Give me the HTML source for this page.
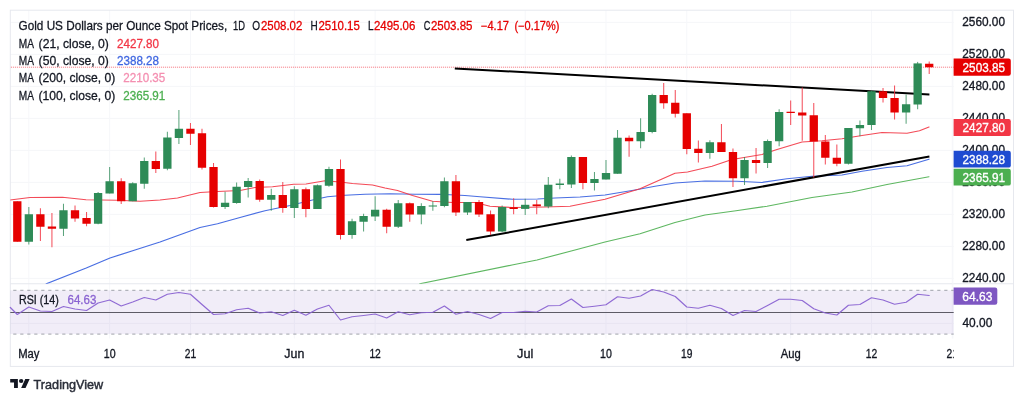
<!DOCTYPE html>
<html lang="en"><head><meta charset="utf-8"><title>Gold US Dollars per Ounce Spot Prices</title>
<style>html,body{margin:0;padding:0;background:#fff;overflow:hidden}svg{display:block}text{font-family:"Liberation Sans",Arial,sans-serif}</style></head><body>
<svg width="1024" height="402" viewBox="0 0 1024 402">
<rect width="1024" height="402" fill="#fff"/>
<line x1="10.3" x2="953.7" y1="22.4" y2="22.4" stroke="#f5f6f9" stroke-width="1"/>
<line x1="10.3" x2="953.7" y1="54.4" y2="54.4" stroke="#f5f6f9" stroke-width="1"/>
<line x1="10.3" x2="953.7" y1="86.4" y2="86.4" stroke="#f5f6f9" stroke-width="1"/>
<line x1="10.3" x2="953.7" y1="118.4" y2="118.4" stroke="#f5f6f9" stroke-width="1"/>
<line x1="10.3" x2="953.7" y1="150.4" y2="150.4" stroke="#f5f6f9" stroke-width="1"/>
<line x1="10.3" x2="953.7" y1="182.4" y2="182.4" stroke="#f5f6f9" stroke-width="1"/>
<line x1="10.3" x2="953.7" y1="214.4" y2="214.4" stroke="#f5f6f9" stroke-width="1"/>
<line x1="10.3" x2="953.7" y1="246.4" y2="246.4" stroke="#f5f6f9" stroke-width="1"/>
<line x1="10.3" x2="953.7" y1="278.4" y2="278.4" stroke="#f5f6f9" stroke-width="1"/>
<line x1="10.3" x2="953.7" y1="323.4" y2="323.4" stroke="#f5f6f9" stroke-width="1"/>
<line x1="28.84" x2="28.84" y1="10.2" y2="338.5" stroke="#f6f7fa" stroke-width="1"/>
<line x1="109.64" x2="109.64" y1="10.2" y2="338.5" stroke="#f6f7fa" stroke-width="1"/>
<line x1="190.44" x2="190.44" y1="10.2" y2="338.5" stroke="#f6f7fa" stroke-width="1"/>
<line x1="294.33" x2="294.33" y1="10.2" y2="338.5" stroke="#f6f7fa" stroke-width="1"/>
<line x1="375.13" x2="375.13" y1="10.2" y2="338.5" stroke="#f6f7fa" stroke-width="1"/>
<line x1="525.19" x2="525.19" y1="10.2" y2="338.5" stroke="#f6f7fa" stroke-width="1"/>
<line x1="605.99" x2="605.99" y1="10.2" y2="338.5" stroke="#f6f7fa" stroke-width="1"/>
<line x1="686.79" x2="686.79" y1="10.2" y2="338.5" stroke="#f6f7fa" stroke-width="1"/>
<line x1="790.68" x2="790.68" y1="10.2" y2="338.5" stroke="#f6f7fa" stroke-width="1"/>
<line x1="871.48" x2="871.48" y1="10.2" y2="338.5" stroke="#f6f7fa" stroke-width="1"/>
<line x1="952.28" x2="952.28" y1="10.2" y2="338.5" stroke="#f6f7fa" stroke-width="1"/>
<rect x="10.3" y="10.2" width="1003.2" height="356.2" fill="none" stroke="#e6e8ee" stroke-width="1"/>
<line x1="10.3" x2="1013.5" y1="283.75" y2="283.75" stroke="#e6e8ee" stroke-width="1"/>
<line x1="952.9" x2="952.9" y1="10.2" y2="338.5" stroke="#f5f6f9" stroke-width="1"/>
<line x1="10.9" x2="953.7" y1="67.2" y2="67.2" stroke="#f23645" stroke-width="1" stroke-dasharray="1 1" opacity="0.7"/>
<clipPath id="cp"><rect x="10.3" y="10.2" width="943.4000000000001" height="273.55"/></clipPath>
<g clip-path="url(#cp)">
<polyline points="419.75,283.75 512.00,265.00 537.00,260.00 575.00,250.00 605.00,242.00 640.00,233.75 675.00,222.50 705.00,215.00 736.00,210.75 767.00,206.25 812.00,197.50 852.00,192.00 887.00,184.50 929.00,176.75" fill="none" stroke="#4caf50" stroke-width="1.15" stroke-linejoin="round" stroke-linecap="round" opacity="0.9"/>
<polyline points="46.25,283.75 86.25,268.00 110.00,258.00 135.00,250.00 160.00,242.00 200.00,227.50 217.50,223.75 240.00,217.50 265.00,210.75 290.00,205.50 312.50,200.00 327.50,196.75 345.00,195.25 365.00,194.25 390.00,193.75 415.00,194.25 440.00,194.25 465.00,195.50 480.00,196.75 512.50,199.25 537.50,199.00 555.00,198.00 580.00,197.00 605.00,195.00 635.00,190.00 655.00,186.25 675.00,183.00 705.00,181.00 737.00,181.25 762.00,182.50 787.00,178.75 812.00,176.25 842.00,175.00 862.00,171.25 887.00,167.50 907.00,165.75 929.00,159.25" fill="none" stroke="#3f66e0" stroke-width="1.25" stroke-linejoin="round" stroke-linecap="round" opacity="0.95"/>
<polyline points="10.00,200.00 30.00,197.50 62.50,197.25 86.00,199.75 117.50,200.25 140.00,201.25 160.00,200.00 177.50,198.00 200.00,192.50 217.50,191.50 240.00,190.50 255.00,187.50 272.50,186.75 293.75,184.25 306.00,184.00 325.00,180.75 340.00,182.00 352.50,183.50 372.50,185.00 385.00,188.00 397.50,190.50 412.50,195.50 432.50,201.25 452.50,202.50 475.00,202.50 490.00,206.25 512.50,207.50 545.00,207.00 570.00,206.25 605.00,199.25 640.00,188.75 675.00,173.25 687.50,172.00 712.00,166.25 732.00,159.50 762.00,154.50 777.00,149.50 802.00,142.00 822.00,140.75 842.00,138.75 862.00,135.50 882.00,132.50 907.00,133.25 919.50,130.75 929.00,127.00" fill="none" stroke="#f23645" stroke-width="1.2" stroke-linejoin="round" stroke-linecap="round" opacity="0.9"/>
<line x1="454.8" y1="68.45" x2="929.4" y2="94.45" stroke="#000" stroke-width="2.0" stroke-linecap="butt"/>
<line x1="466.3" y1="240.05" x2="929.4" y2="156.4" stroke="#000" stroke-width="2.0" stroke-linecap="butt"/>
<rect x="16.80" y="201.25" width="1" height="40.50" fill="#f23645" opacity="0.9"/>
<rect x="13.15" y="201.25" width="8.3" height="40.50" fill="#e60000"/>
<rect x="28.34" y="207.00" width="1" height="37.50" fill="#2e8b57" opacity="0.8"/>
<rect x="24.69" y="214.25" width="8.3" height="27.50" fill="#2e8b57"/>
<rect x="39.89" y="208.25" width="1" height="32.75" fill="#f23645" opacity="0.9"/>
<rect x="36.24" y="214.25" width="8.3" height="12.50" fill="#e60000"/>
<rect x="51.43" y="213.00" width="1" height="34.25" fill="#f23645" opacity="0.9"/>
<rect x="47.78" y="226.50" width="8.3" height="2.25" fill="#e60000"/>
<rect x="62.97" y="203.75" width="1" height="32.25" fill="#2e8b57" opacity="0.8"/>
<rect x="59.32" y="210.25" width="8.3" height="18.50" fill="#2e8b57"/>
<rect x="74.52" y="205.50" width="1" height="16.25" fill="#f23645" opacity="0.9"/>
<rect x="70.86" y="210.25" width="8.3" height="8.25" fill="#e60000"/>
<rect x="86.06" y="212.00" width="1" height="14.25" fill="#f23645" opacity="0.9"/>
<rect x="82.41" y="218.00" width="8.3" height="5.75" fill="#e60000"/>
<rect x="97.60" y="192.00" width="1" height="32.25" fill="#2e8b57" opacity="0.8"/>
<rect x="93.95" y="193.00" width="8.3" height="30.75" fill="#2e8b57"/>
<rect x="109.14" y="167.00" width="1" height="26.50" fill="#2e8b57" opacity="0.8"/>
<rect x="105.49" y="181.25" width="8.3" height="12.25" fill="#2e8b57"/>
<rect x="120.69" y="178.25" width="1" height="25.75" fill="#f23645" opacity="0.9"/>
<rect x="117.04" y="181.25" width="8.3" height="20.00" fill="#e60000"/>
<rect x="132.23" y="182.25" width="1" height="19.00" fill="#2e8b57" opacity="0.8"/>
<rect x="128.58" y="183.25" width="8.3" height="18.00" fill="#2e8b57"/>
<rect x="143.77" y="157.50" width="1" height="31.25" fill="#2e8b57" opacity="0.8"/>
<rect x="140.12" y="161.00" width="8.3" height="22.75" fill="#2e8b57"/>
<rect x="155.32" y="151.50" width="1" height="21.50" fill="#f23645" opacity="0.9"/>
<rect x="151.67" y="161.00" width="8.3" height="8.00" fill="#e60000"/>
<rect x="166.86" y="131.75" width="1" height="38.50" fill="#2e8b57" opacity="0.8"/>
<rect x="163.21" y="137.50" width="8.3" height="31.25" fill="#2e8b57"/>
<rect x="178.40" y="110.00" width="1" height="34.00" fill="#2e8b57" opacity="0.8"/>
<rect x="174.75" y="128.75" width="8.3" height="9.25" fill="#2e8b57"/>
<rect x="189.94" y="123.00" width="1" height="22.00" fill="#f23645" opacity="0.9"/>
<rect x="186.29" y="128.75" width="8.3" height="5.00" fill="#e60000"/>
<rect x="201.49" y="128.75" width="1" height="40.75" fill="#f23645" opacity="0.9"/>
<rect x="197.84" y="133.25" width="8.3" height="34.50" fill="#e60000"/>
<rect x="213.03" y="163.00" width="1" height="44.50" fill="#f23645" opacity="0.9"/>
<rect x="209.38" y="167.00" width="8.3" height="40.00" fill="#e60000"/>
<rect x="224.57" y="191.75" width="1" height="17.25" fill="#2e8b57" opacity="0.8"/>
<rect x="220.92" y="202.75" width="8.3" height="4.25" fill="#2e8b57"/>
<rect x="236.12" y="182.50" width="1" height="21.25" fill="#2e8b57" opacity="0.8"/>
<rect x="232.47" y="186.75" width="8.3" height="16.25" fill="#2e8b57"/>
<rect x="247.66" y="178.00" width="1" height="19.50" fill="#2e8b57" opacity="0.8"/>
<rect x="244.01" y="181.00" width="8.3" height="6.00" fill="#2e8b57"/>
<rect x="259.20" y="179.50" width="1" height="22.25" fill="#f23645" opacity="0.9"/>
<rect x="255.55" y="181.00" width="8.3" height="18.75" fill="#e60000"/>
<rect x="270.75" y="188.75" width="1" height="22.00" fill="#2e8b57" opacity="0.8"/>
<rect x="267.10" y="195.00" width="8.3" height="4.75" fill="#2e8b57"/>
<rect x="282.29" y="182.00" width="1" height="30.75" fill="#f23645" opacity="0.9"/>
<rect x="278.64" y="195.00" width="8.3" height="13.00" fill="#e60000"/>
<rect x="293.83" y="186.25" width="1" height="31.75" fill="#2e8b57" opacity="0.8"/>
<rect x="290.18" y="189.25" width="8.3" height="18.75" fill="#2e8b57"/>
<rect x="305.38" y="187.50" width="1" height="29.75" fill="#f23645" opacity="0.9"/>
<rect x="301.73" y="189.25" width="8.3" height="19.75" fill="#e60000"/>
<rect x="316.92" y="184.50" width="1" height="24.50" fill="#2e8b57" opacity="0.8"/>
<rect x="313.27" y="185.25" width="8.3" height="23.75" fill="#2e8b57"/>
<rect x="328.46" y="166.75" width="1" height="20.00" fill="#2e8b57" opacity="0.8"/>
<rect x="324.81" y="169.00" width="8.3" height="16.75" fill="#2e8b57"/>
<rect x="340.00" y="159.50" width="1" height="80.00" fill="#f23645" opacity="0.9"/>
<rect x="336.35" y="169.00" width="8.3" height="66.00" fill="#e60000"/>
<rect x="351.55" y="218.75" width="1" height="20.00" fill="#2e8b57" opacity="0.8"/>
<rect x="347.90" y="221.25" width="8.3" height="13.75" fill="#2e8b57"/>
<rect x="363.09" y="213.75" width="1" height="17.75" fill="#2e8b57" opacity="0.8"/>
<rect x="359.44" y="216.00" width="8.3" height="5.75" fill="#2e8b57"/>
<rect x="374.63" y="196.25" width="1" height="24.75" fill="#2e8b57" opacity="0.8"/>
<rect x="370.98" y="209.75" width="8.3" height="6.75" fill="#2e8b57"/>
<rect x="386.18" y="208.75" width="1" height="24.50" fill="#f23645" opacity="0.9"/>
<rect x="382.53" y="209.75" width="8.3" height="17.00" fill="#e60000"/>
<rect x="397.72" y="200.00" width="1" height="28.00" fill="#2e8b57" opacity="0.8"/>
<rect x="394.07" y="203.25" width="8.3" height="23.50" fill="#2e8b57"/>
<rect x="409.26" y="202.50" width="1" height="19.25" fill="#f23645" opacity="0.9"/>
<rect x="405.61" y="203.25" width="8.3" height="11.25" fill="#e60000"/>
<rect x="420.81" y="203.25" width="1" height="21.00" fill="#2e8b57" opacity="0.8"/>
<rect x="417.16" y="206.00" width="8.3" height="8.50" fill="#2e8b57"/>
<rect x="432.35" y="201.25" width="1" height="9.50" fill="#2e8b57" opacity="0.8"/>
<rect x="428.70" y="205.50" width="8.3" height="1.00" fill="#2e8b57"/>
<rect x="443.89" y="177.50" width="1" height="29.75" fill="#2e8b57" opacity="0.8"/>
<rect x="440.24" y="181.25" width="8.3" height="24.75" fill="#2e8b57"/>
<rect x="455.43" y="175.00" width="1" height="41.00" fill="#f23645" opacity="0.9"/>
<rect x="451.78" y="181.25" width="8.3" height="31.25" fill="#e60000"/>
<rect x="466.98" y="202.00" width="1" height="13.00" fill="#2e8b57" opacity="0.8"/>
<rect x="463.33" y="202.00" width="8.3" height="10.50" fill="#2e8b57"/>
<rect x="478.52" y="200.00" width="1" height="17.00" fill="#f23645" opacity="0.9"/>
<rect x="474.87" y="202.00" width="8.3" height="12.50" fill="#e60000"/>
<rect x="490.06" y="210.50" width="1" height="24.50" fill="#f23645" opacity="0.9"/>
<rect x="486.41" y="214.25" width="8.3" height="17.25" fill="#e60000"/>
<rect x="501.61" y="205.50" width="1" height="26.50" fill="#2e8b57" opacity="0.8"/>
<rect x="497.96" y="207.00" width="8.3" height="24.50" fill="#2e8b57"/>
<rect x="513.15" y="198.25" width="1" height="16.00" fill="#f23645" opacity="0.9"/>
<rect x="509.50" y="207.25" width="8.3" height="1.75" fill="#e60000"/>
<rect x="524.69" y="198.75" width="1" height="16.25" fill="#2e8b57" opacity="0.8"/>
<rect x="521.04" y="204.80" width="8.3" height="4.10" fill="#2e8b57"/>
<rect x="536.23" y="200.00" width="1" height="14.25" fill="#f23645" opacity="0.9"/>
<rect x="532.58" y="204.40" width="8.3" height="1.80" fill="#e60000"/>
<rect x="547.78" y="177.00" width="1" height="31.25" fill="#2e8b57" opacity="0.8"/>
<rect x="544.13" y="184.75" width="8.3" height="21.75" fill="#2e8b57"/>
<rect x="559.32" y="178.75" width="1" height="10.50" fill="#2e8b57" opacity="0.8"/>
<rect x="555.67" y="183.50" width="8.3" height="1.50" fill="#2e8b57"/>
<rect x="570.86" y="155.50" width="1" height="32.50" fill="#2e8b57" opacity="0.8"/>
<rect x="567.21" y="157.00" width="8.3" height="27.50" fill="#2e8b57"/>
<rect x="582.41" y="157.00" width="1" height="32.25" fill="#f23645" opacity="0.9"/>
<rect x="578.76" y="157.00" width="8.3" height="26.00" fill="#e60000"/>
<rect x="593.95" y="172.00" width="1" height="18.50" fill="#2e8b57" opacity="0.8"/>
<rect x="590.30" y="179.00" width="8.3" height="4.00" fill="#2e8b57"/>
<rect x="605.49" y="160.00" width="1" height="19.50" fill="#2e8b57" opacity="0.8"/>
<rect x="601.84" y="173.00" width="8.3" height="6.50" fill="#2e8b57"/>
<rect x="617.04" y="130.00" width="1" height="43.75" fill="#2e8b57" opacity="0.8"/>
<rect x="613.39" y="137.75" width="8.3" height="36.00" fill="#2e8b57"/>
<rect x="628.58" y="135.50" width="1" height="21.25" fill="#f23645" opacity="0.9"/>
<rect x="624.93" y="137.75" width="8.3" height="3.50" fill="#e60000"/>
<rect x="640.12" y="118.25" width="1" height="30.00" fill="#2e8b57" opacity="0.8"/>
<rect x="636.47" y="132.00" width="8.3" height="9.25" fill="#2e8b57"/>
<rect x="651.66" y="93.75" width="1" height="39.50" fill="#2e8b57" opacity="0.8"/>
<rect x="648.01" y="95.00" width="8.3" height="37.00" fill="#2e8b57"/>
<rect x="663.21" y="83.00" width="1" height="25.75" fill="#f23645" opacity="0.9"/>
<rect x="659.56" y="95.00" width="8.3" height="8.25" fill="#e60000"/>
<rect x="674.75" y="90.00" width="1" height="27.50" fill="#f23645" opacity="0.9"/>
<rect x="671.10" y="102.75" width="8.3" height="11.00" fill="#e60000"/>
<rect x="686.29" y="113.25" width="1" height="41.00" fill="#f23645" opacity="0.9"/>
<rect x="682.64" y="113.25" width="8.3" height="35.75" fill="#e60000"/>
<rect x="697.84" y="140.50" width="1" height="22.00" fill="#f23645" opacity="0.9"/>
<rect x="694.19" y="148.75" width="8.3" height="4.25" fill="#e60000"/>
<rect x="709.38" y="140.25" width="1" height="18.50" fill="#2e8b57" opacity="0.8"/>
<rect x="705.73" y="142.25" width="8.3" height="10.75" fill="#2e8b57"/>
<rect x="720.92" y="124.00" width="1" height="28.00" fill="#f23645" opacity="0.9"/>
<rect x="717.27" y="142.25" width="8.3" height="9.75" fill="#e60000"/>
<rect x="732.47" y="148.50" width="1" height="38.50" fill="#f23645" opacity="0.9"/>
<rect x="728.82" y="152.00" width="8.3" height="26.25" fill="#e60000"/>
<rect x="744.01" y="157.00" width="1" height="28.00" fill="#2e8b57" opacity="0.8"/>
<rect x="740.36" y="160.00" width="8.3" height="18.25" fill="#2e8b57"/>
<rect x="755.55" y="148.00" width="1" height="25.50" fill="#f23645" opacity="0.9"/>
<rect x="751.90" y="160.00" width="8.3" height="3.00" fill="#e60000"/>
<rect x="767.09" y="139.50" width="1" height="28.50" fill="#2e8b57" opacity="0.8"/>
<rect x="763.44" y="141.00" width="8.3" height="22.00" fill="#2e8b57"/>
<rect x="778.64" y="109.25" width="1" height="37.00" fill="#2e8b57" opacity="0.8"/>
<rect x="774.99" y="112.00" width="8.3" height="29.25" fill="#2e8b57"/>
<rect x="790.18" y="100.50" width="1" height="24.50" fill="#f23645" opacity="0.9"/>
<rect x="786.53" y="111.75" width="8.3" height="1.25" fill="#e60000"/>
<rect x="801.72" y="87.50" width="1" height="53.25" fill="#f23645" opacity="0.9"/>
<rect x="798.07" y="112.50" width="8.3" height="3.00" fill="#e60000"/>
<rect x="813.27" y="103.00" width="1" height="74.50" fill="#f23645" opacity="0.9"/>
<rect x="809.62" y="115.25" width="8.3" height="26.25" fill="#e60000"/>
<rect x="824.81" y="135.00" width="1" height="29.50" fill="#f23645" opacity="0.9"/>
<rect x="821.16" y="141.50" width="8.3" height="16.25" fill="#e60000"/>
<rect x="836.35" y="144.50" width="1" height="21.75" fill="#f23645" opacity="0.9"/>
<rect x="832.70" y="157.75" width="8.3" height="6.00" fill="#e60000"/>
<rect x="847.90" y="128.00" width="1" height="36.50" fill="#2e8b57" opacity="0.8"/>
<rect x="844.25" y="128.00" width="8.3" height="35.75" fill="#2e8b57"/>
<rect x="859.44" y="120.50" width="1" height="15.75" fill="#2e8b57" opacity="0.8"/>
<rect x="855.79" y="125.00" width="8.3" height="3.25" fill="#2e8b57"/>
<rect x="870.98" y="90.50" width="1" height="39.50" fill="#2e8b57" opacity="0.8"/>
<rect x="867.33" y="91.25" width="8.3" height="33.75" fill="#2e8b57"/>
<rect x="882.52" y="88.00" width="1" height="14.50" fill="#f23645" opacity="0.9"/>
<rect x="878.87" y="91.25" width="8.3" height="6.75" fill="#e60000"/>
<rect x="894.07" y="85.50" width="1" height="34.00" fill="#f23645" opacity="0.9"/>
<rect x="890.42" y="98.00" width="8.3" height="14.50" fill="#e60000"/>
<rect x="905.61" y="94.50" width="1" height="29.25" fill="#2e8b57" opacity="0.8"/>
<rect x="901.96" y="104.25" width="8.3" height="8.25" fill="#2e8b57"/>
<rect x="917.15" y="61.90" width="1" height="47.35" fill="#2e8b57" opacity="0.8"/>
<rect x="913.50" y="63.40" width="8.3" height="41.10" fill="#2e8b57"/>
<rect x="928.70" y="61.50" width="1" height="12.50" fill="#f23645" opacity="0.9"/>
<rect x="925.05" y="63.75" width="8.3" height="3.50" fill="#e60000"/>
</g>
<rect x="10.3" y="290.3" width="943.4000000000001" height="43.80000000000001" fill="#7e57c2" opacity="0.11"/>
<line x1="10.3" x2="953.7" y1="290.3" y2="290.3" stroke="#8f929b" stroke-width="0.85" stroke-dasharray="3.2 3.8" stroke-dashoffset="4.05"/>
<line x1="10.3" x2="953.7" y1="334.1" y2="334.1" stroke="#8f929b" stroke-width="0.85" stroke-dasharray="3.2 3.8" stroke-dashoffset="4.05"/>
<line x1="10.3" x2="953.7" y1="312.5" y2="312.5" stroke="#5d5b66" stroke-width="1"/>
<polyline points="10.30,307.50 17.30,314.50 28.84,307.00 40.39,311.00 51.93,311.50 63.47,306.50 75.02,309.00 86.56,310.50 98.10,303.00 109.64,300.00 121.19,306.00 132.73,302.00 144.27,297.50 155.82,300.00 167.36,294.25 178.90,292.50 190.44,294.25 201.99,304.50 213.53,314.50 225.07,313.75 236.62,309.75 248.16,308.25 259.70,313.00 271.25,311.75 282.79,315.50 294.33,310.25 305.88,315.25 317.42,309.00 328.96,305.25 340.50,320.00 352.05,316.75 363.59,315.50 375.13,314.00 386.68,318.00 398.22,311.75 409.76,314.75 421.31,312.75 432.85,312.25 444.39,306.00 455.93,314.25 467.48,311.50 479.02,314.50 490.56,318.50 502.11,312.50 513.65,312.50 525.19,311.25 536.73,312.00 548.28,305.75 559.82,305.50 571.36,299.00 582.91,307.50 594.45,306.25 605.99,304.75 617.54,296.75 629.08,298.25 640.62,296.00 652.16,289.50 663.71,292.00 675.25,296.50 686.79,307.00 698.34,308.25 709.88,305.25 721.42,308.50 732.97,315.50 744.51,310.50 756.05,311.50 767.59,305.50 779.14,299.25 790.68,299.25 802.22,300.50 813.77,308.75 825.31,313.00 836.85,315.00 848.40,305.25 859.94,304.50 871.48,297.75 883.02,300.00 894.57,304.25 906.11,302.25 917.65,294.25 929.20,295.50" fill="none" stroke="#8a63d2" stroke-width="1.2" stroke-linejoin="round" stroke-linecap="round" opacity="0.95"/>
<text x="18.6" y="30.0" font-size="11.9" fill="#131722" stroke="#131722" stroke-width="0.28" textLength="208.6" lengthAdjust="spacingAndGlyphs">Gold US Dollars per Ounce Spot Prices,</text>
<text x="233.0" y="30.0" font-size="11.9" fill="#131722" stroke="#131722" stroke-width="0.28" textLength="12.0" lengthAdjust="spacingAndGlyphs">1D</text>
<text x="252.2" y="30.0" font-size="11.9" fill="#131722" stroke="#131722" stroke-width="0.28" textLength="7.8" lengthAdjust="spacingAndGlyphs">O</text>
<text x="261" y="30.0" font-size="11.9" fill="#e60000" stroke="#e60000" stroke-width="0.28" textLength="41.3" lengthAdjust="spacingAndGlyphs">2508.02</text>
<text x="310.6" y="30.0" font-size="11.9" fill="#131722" stroke="#131722" stroke-width="0.28" textLength="7.2" lengthAdjust="spacingAndGlyphs">H</text>
<text x="318.5" y="30.0" font-size="11.9" fill="#e60000" stroke="#e60000" stroke-width="0.28" textLength="41.3" lengthAdjust="spacingAndGlyphs">2510.15</text>
<text x="367.9" y="30.0" font-size="11.9" fill="#131722" stroke="#131722" stroke-width="0.28" textLength="5.6" lengthAdjust="spacingAndGlyphs">L</text>
<text x="374.0" y="30.0" font-size="11.9" fill="#e60000" stroke="#e60000" stroke-width="0.28" textLength="41.3" lengthAdjust="spacingAndGlyphs">2495.06</text>
<text x="423.75" y="30.0" font-size="11.9" fill="#131722" stroke="#131722" stroke-width="0.28" textLength="6.6" lengthAdjust="spacingAndGlyphs">C</text>
<text x="430.9" y="30.0" font-size="11.9" fill="#e60000" stroke="#e60000" stroke-width="0.28" textLength="41.6" lengthAdjust="spacingAndGlyphs">2503.85</text>
<text x="480.9" y="30.0" font-size="11.9" fill="#e60000" stroke="#e60000" stroke-width="0.28" textLength="28.1" lengthAdjust="spacingAndGlyphs">−4.17</text>
<text x="514.5" y="30.0" font-size="11.9" fill="#e60000" stroke="#e60000" stroke-width="0.28" textLength="44.8" lengthAdjust="spacingAndGlyphs">(−0.17%)</text>
<text x="18.7" y="47.6" font-size="11.9" fill="#131722" stroke="#131722" stroke-width="0.28" textLength="15.2" lengthAdjust="spacingAndGlyphs">MA</text>
<text x="38.6" y="47.6" font-size="11.9" fill="#131722" stroke="#131722" stroke-width="0.28" textLength="70.2" lengthAdjust="spacingAndGlyphs">(21, close, 0)</text>
<text x="117.0" y="47.6" font-size="11.9" fill="#f23645" stroke="#f23645" stroke-width="0.28" textLength="42" lengthAdjust="spacingAndGlyphs">2427.80</text>
<text x="18.7" y="64.9" font-size="11.9" fill="#131722" stroke="#131722" stroke-width="0.28" textLength="15.2" lengthAdjust="spacingAndGlyphs">MA</text>
<text x="38.6" y="64.9" font-size="11.9" fill="#131722" stroke="#131722" stroke-width="0.28" textLength="70.2" lengthAdjust="spacingAndGlyphs">(50, close, 0)</text>
<text x="117.0" y="64.9" font-size="11.9" fill="#3f66e0" stroke="#3f66e0" stroke-width="0.28" textLength="42" lengthAdjust="spacingAndGlyphs">2388.28</text>
<text x="18.7" y="82.2" font-size="11.9" fill="#131722" stroke="#131722" stroke-width="0.28" textLength="15.2" lengthAdjust="spacingAndGlyphs">MA</text>
<text x="38.6" y="82.2" font-size="11.9" fill="#131722" stroke="#131722" stroke-width="0.28" textLength="76.6" lengthAdjust="spacingAndGlyphs">(200, close, 0)</text>
<text x="123.3" y="82.2" font-size="11.9" fill="#f48fb1" stroke="#f48fb1" stroke-width="0.28" textLength="42" lengthAdjust="spacingAndGlyphs">2210.35</text>
<text x="18.7" y="99.5" font-size="11.9" fill="#131722" stroke="#131722" stroke-width="0.28" textLength="15.2" lengthAdjust="spacingAndGlyphs">MA</text>
<text x="38.6" y="99.5" font-size="11.9" fill="#131722" stroke="#131722" stroke-width="0.28" textLength="76.6" lengthAdjust="spacingAndGlyphs">(100, close, 0)</text>
<text x="123.3" y="99.5" font-size="11.9" fill="#4caf50" stroke="#4caf50" stroke-width="0.28" textLength="42" lengthAdjust="spacingAndGlyphs">2365.91</text>
<text x="18.9" y="303.8" font-size="11.9" fill="#131722" stroke="#131722" stroke-width="0.28" textLength="40" lengthAdjust="spacingAndGlyphs">RSI (14)</text>
<text x="67.5" y="303.8" font-size="11.9" fill="#8a63d2" stroke="#8a63d2" stroke-width="0.28" textLength="28.8" lengthAdjust="spacingAndGlyphs">64.63</text>
<text x="962.3" y="26.299999999999997" font-size="12.5" fill="#131722" stroke="#131722" stroke-width="0.32" textLength="42.7" lengthAdjust="spacingAndGlyphs">2560.00</text>
<text x="962.3" y="58.3" font-size="12.5" fill="#131722" stroke="#131722" stroke-width="0.32" textLength="42.7" lengthAdjust="spacingAndGlyphs">2520.00</text>
<text x="962.3" y="90.30000000000001" font-size="12.5" fill="#131722" stroke="#131722" stroke-width="0.32" textLength="42.7" lengthAdjust="spacingAndGlyphs">2480.00</text>
<text x="962.3" y="122.30000000000001" font-size="12.5" fill="#131722" stroke="#131722" stroke-width="0.32" textLength="42.7" lengthAdjust="spacingAndGlyphs">2440.00</text>
<text x="962.3" y="154.3" font-size="12.5" fill="#131722" stroke="#131722" stroke-width="0.32" textLength="42.7" lengthAdjust="spacingAndGlyphs">2400.00</text>
<text x="962.3" y="186.3" font-size="12.5" fill="#131722" stroke="#131722" stroke-width="0.32" textLength="42.7" lengthAdjust="spacingAndGlyphs">2360.00</text>
<text x="962.3" y="218.3" font-size="12.5" fill="#131722" stroke="#131722" stroke-width="0.32" textLength="42.7" lengthAdjust="spacingAndGlyphs">2320.00</text>
<text x="962.3" y="250.3" font-size="12.5" fill="#131722" stroke="#131722" stroke-width="0.32" textLength="42.7" lengthAdjust="spacingAndGlyphs">2280.00</text>
<text x="962.3" y="282.29999999999995" font-size="12.5" fill="#131722" stroke="#131722" stroke-width="0.32" textLength="42.7" lengthAdjust="spacingAndGlyphs">2240.00</text>
<text x="962.5" y="326.9" font-size="12.5" fill="#131722" stroke="#131722" stroke-width="0.32" textLength="29.8" lengthAdjust="spacingAndGlyphs">40.00</text>
<path d="M953.6 58.5H1008.5999999999999Q1010.8 58.5 1010.8 60.7V73.6Q1010.8 75.8 1008.5999999999999 75.8H953.6Z" fill="#e60000"/>
<text x="962.6" y="71.6" font-size="12.5" fill="#fff" stroke="#fff" stroke-width="0.32" textLength="42.4" lengthAdjust="spacingAndGlyphs">2503.85</text>
<path d="M953.6 119H1008.5999999999999Q1010.8 119 1010.8 121.2V133.9Q1010.8 136.1 1008.5999999999999 136.1H953.6Z" fill="#f23645"/>
<text x="962.6" y="132.20000000000002" font-size="12.5" fill="#fff" stroke="#fff" stroke-width="0.32" textLength="42.4" lengthAdjust="spacingAndGlyphs">2427.80</text>
<path d="M953.6 150.7H1008.5999999999999Q1010.8 150.7 1010.8 152.89999999999998V165.4Q1010.8 167.6 1008.5999999999999 167.6H953.6Z" fill="#1e4bd1"/>
<text x="962.6" y="163.70000000000002" font-size="12.5" fill="#fff" stroke="#fff" stroke-width="0.32" textLength="42.4" lengthAdjust="spacingAndGlyphs">2388.28</text>
<path d="M953.6 168.7H1008.5999999999999Q1010.8 168.7 1010.8 170.89999999999998V183.4Q1010.8 185.6 1008.5999999999999 185.6H953.6Z" fill="#4caf50"/>
<text x="962.6" y="181.8" font-size="12.5" fill="#fff" stroke="#fff" stroke-width="0.32" textLength="42.4" lengthAdjust="spacingAndGlyphs">2365.91</text>
<path d="M953.6 287.5H995.0999999999999Q997.3 287.5 997.3 289.7V302.6Q997.3 304.8 995.0999999999999 304.8H953.6Z" fill="#7e57c2"/>
<text x="962.3" y="301.3" font-size="12.5" fill="#fff" stroke="#fff" stroke-width="0.32" textLength="30" lengthAdjust="spacingAndGlyphs">64.63</text>
<clipPath id="tc"><rect x="0" y="340" width="953.7" height="26"/></clipPath><g clip-path="url(#tc)">
<text x="18.19" y="357.5" font-size="12.5" fill="#131722" stroke="#131722" stroke-width="0.32" textLength="21.3" lengthAdjust="spacingAndGlyphs">May</text>
<text x="103.74" y="357.5" font-size="12.5" fill="#131722" stroke="#131722" stroke-width="0.32" textLength="11.8" lengthAdjust="spacingAndGlyphs">10</text>
<text x="184.75" y="357.5" font-size="12.5" fill="#131722" stroke="#131722" stroke-width="0.32" textLength="11.4" lengthAdjust="spacingAndGlyphs">21</text>
<text x="284.33" y="357.5" font-size="12.5" fill="#131722" stroke="#131722" stroke-width="0.32" textLength="20" lengthAdjust="spacingAndGlyphs">Jun</text>
<text x="369.38" y="357.5" font-size="12.5" fill="#131722" stroke="#131722" stroke-width="0.32" textLength="11.5" lengthAdjust="spacingAndGlyphs">12</text>
<text x="517.04" y="357.5" font-size="12.5" fill="#131722" stroke="#131722" stroke-width="0.32" textLength="16.3" lengthAdjust="spacingAndGlyphs">Jul</text>
<text x="600.09" y="357.5" font-size="12.5" fill="#131722" stroke="#131722" stroke-width="0.32" textLength="11.8" lengthAdjust="spacingAndGlyphs">10</text>
<text x="681.09" y="357.5" font-size="12.5" fill="#131722" stroke="#131722" stroke-width="0.32" textLength="11.4" lengthAdjust="spacingAndGlyphs">19</text>
<text x="780.68" y="357.5" font-size="12.5" fill="#131722" stroke="#131722" stroke-width="0.32" textLength="20" lengthAdjust="spacingAndGlyphs">Aug</text>
<text x="865.73" y="357.5" font-size="12.5" fill="#131722" stroke="#131722" stroke-width="0.32" textLength="11.5" lengthAdjust="spacingAndGlyphs">12</text>
<text x="946.58" y="357.5" font-size="12.5" fill="#131722" stroke="#131722" stroke-width="0.32" textLength="11.4" lengthAdjust="spacingAndGlyphs">21</text>
</g>
<g transform="translate(10.2,377.1) scale(0.548,0.5)" fill="#131722"><path d="M14 22H7V11H0V4h14v18zM28 22h-8l7.5-18h8L28 22z"/><circle cx="20" cy="8" r="4"/></g>
<text x="33.6" y="388.8" font-size="12.6" fill="#2a2e39" stroke="#2a2e39" stroke-width="0.45" textLength="69.6" lengthAdjust="spacingAndGlyphs">TradingView</text>
</svg></body></html>
